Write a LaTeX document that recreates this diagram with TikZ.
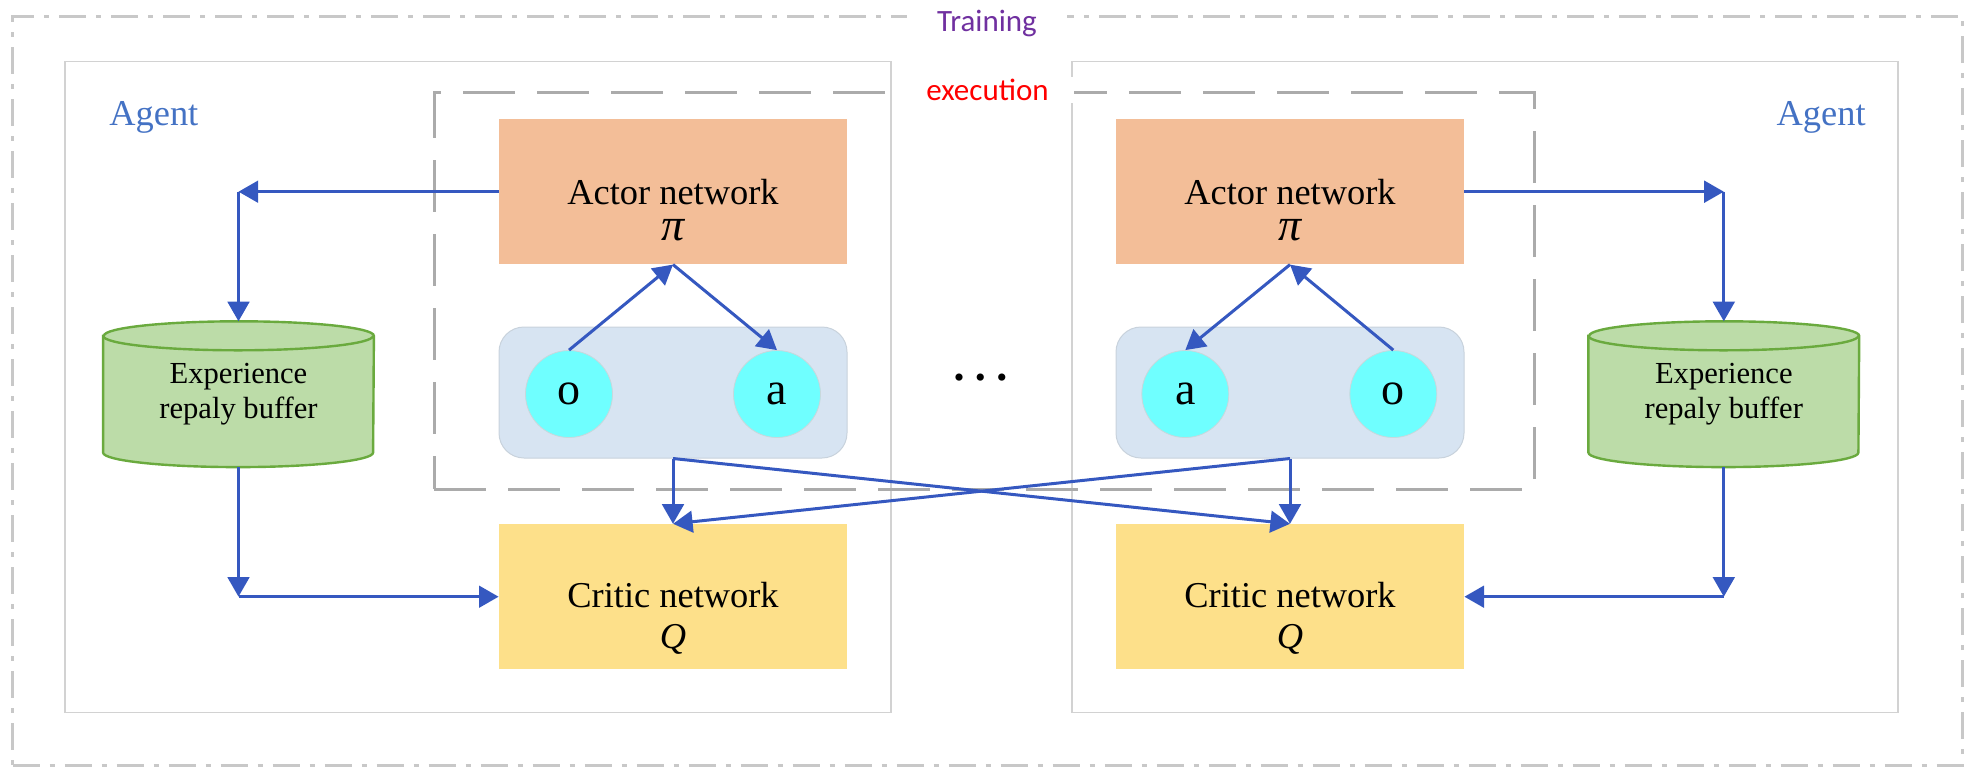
\documentclass[tikz,border=0pt]{standalone}
\usepackage{fontspec}
\setmainfont{Liberation Serif}
\newfontfamily\calib{Carlito}
\usetikzlibrary{arrows.meta,backgrounds}
\definecolor{arrowblue}{HTML}{3558C0}
\definecolor{agentgray}{HTML}{D2D2D2}
\definecolor{outergray}{HTML}{C8C8C8}
\definecolor{execgray}{HTML}{ABABAB}
\definecolor{actorfill}{HTML}{F3BE98}
\definecolor{criticfill}{HTML}{FDE08A}
\definecolor{cylfill}{HTML}{BCDCA8}
\definecolor{cylline}{HTML}{6AAA3E}
\definecolor{obsfill}{HTML}{D7E4F2}
\definecolor{obsline}{HTML}{C8D2DC}
\definecolor{cyanfill}{HTML}{6FFFFF}
\definecolor{circline}{HTML}{C8D8DC}
\definecolor{agentblue}{HTML}{4472C4}
\definecolor{trainpurple}{HTML}{7030A0}
\begin{document}
\begin{tikzpicture}[x=0.5pt,y=-0.5pt,
  agentbox/.style={draw=agentgray, line width=0.75pt, minimum width=413pt, minimum height=325.3pt, inner sep=0pt},
  netbox/.style={minimum width=174pt, minimum height=72.5pt, inner sep=0pt},
  nettext/.style={align=center, inner sep=0pt, font=\fontsize{18.2}{18.2}\selectfont},
  obsbox/.style={fill=obsfill, draw=obsline, line width=0.5pt, rounded corners=12.5pt, minimum width=174pt, minimum height=65.5pt, inner sep=0pt},
  var/.style={circle, fill=cyanfill, draw=circline, line width=0.4pt, minimum size=43.5pt, inner sep=0pt, font=\fontsize{23}{23}\selectfont},
  cylbox/.style={minimum width=135pt, minimum height=72.5pt, inner sep=0pt, align=center, font=\fontsize{15.3}{17.85}\selectfont},
  cylpaint/.style={fill=cylfill, draw=cylline, line width=1.2pt},
  arr/.style={draw=arrowblue, line width=1.5pt, -{Triangle[length=9.8pt,width=10.8pt]}},
  agentlbl/.style={text=agentblue, inner sep=0pt, font=\fontsize{18.2}{18.2}\selectfont},
  boxlbl/.style={fill=white, inner ysep=1pt, font=\calib\fontsize{15.5}{15.5}\selectfont}
]
\useasboundingbox (0,0) rectangle (1974,782);

% outer training frame
\node[draw=outergray, line width=1.5pt, dash pattern=on 13.5pt off 5pt on 2.5pt off 5pt,
      minimum width=975pt, minimum height=374.5pt, inner sep=0pt] (train) at (987.7,390.5) {};
% agent frames
\node[agentbox] (agentL) at (478.15,387) {};
\node[agentbox] (agentR) at (1485,387) {};
% execution frame
\node[draw=execgray, line width=1.5pt, dash pattern=on 26pt off 11pt,
      minimum width=550pt, minimum height=198.15pt, inner sep=0pt] (exec) at (984.3,290.85) {};

\node[boxlbl, text=trainpurple, inner xsep=15pt, anchor=base] (trainlbl) at (987,31.5) {Training};
\node[boxlbl, text=red, inner xsep=12.5pt, anchor=base] (execlbl) at (987.5,100.7) {execution};

\node[agentlbl, anchor=base west] (agentLlbl) at (109,125) {Agent};
\node[agentlbl, anchor=base east] (agentRlbl) at (1866,125) {Agent};

% left agent
\node[netbox, fill=actorfill] (actorL) at (673,191.7) {};
\node[nettext] (actorLt) at (673,209.8) {Actor network\\{\fontsize{23}{18.2}\selectfont\itshape π}};
\node[obsbox] (obsL) at (673,392.5) {};
\node[var] (oL) at (569,394) {o};
\node[var] (aL) at (777,394) {a};
\node[netbox, fill=criticfill] (criticL) at (673,596.7) {};
\node[nettext, font=\fontsize{18.2}{20.65}\selectfont] (criticLt) at (673,618) {Critic network\\{\itshape Q}};
\node[cylbox] (cylL) at (238.5,394.2) {Experience\\repaly buffer};

% right agent
\node[netbox, fill=actorfill] (actorR) at (1290,191.7) {};
\node[nettext] (actorRt) at (1290,209.8) {Actor network\\{\fontsize{23}{18.2}\selectfont\itshape π}};
\node[obsbox] (obsR) at (1290,392.5) {};
\node[var] (aR) at (1185.3,394) {a};
\node[var] (oR) at (1393.3,394) {o};
\node[netbox, fill=criticfill] (criticR) at (1290,596.7) {};
\node[nettext, font=\fontsize{18.2}{20.65}\selectfont] (criticRt) at (1290,618) {Critic network\\{\itshape Q}};
\node[cylbox] (cylR) at (1723.8,394.2) {Experience\\repaly buffer};

% cylinders
\begin{scope}[on background layer]
\foreach \c in {cylL,cylR}{
  \path[cylpaint] ([yshift=-7.25pt]\c.north west) -- ([yshift=7.25pt]\c.south west)
     arc[start angle=180, end angle=360, x radius=67.5pt, y radius=7.25pt]
     -- ([yshift=-7.25pt]\c.north east)
     arc[start angle=0, end angle=180, x radius=67.5pt, y radius=7.25pt] -- cycle;
  \draw[cylline, line width=1.2pt] ([yshift=-7.25pt]\c.north west)
     arc[start angle=180, end angle=360, x radius=67.5pt, y radius=7.25pt];
}
\end{scope}

% dots
\node[font=\fontsize{15}{15}\selectfont, inner sep=0pt] (dots) at (980.5,381) {•\hspace{5.5pt}•\hspace{5.5pt}•};

% corner points
\coordinate (cL1) at (cylL.north |- actorL.west);
\coordinate (cL2) at (cylL.south |- criticL.west);
\coordinate (cR1) at (cylR.north |- actorR.east);
\coordinate (cR2) at (cylR.south |- criticR.east);

% left arrows
\draw[arr] (actorL.west) -- (cL1);
\draw[arr] (cL1) -- (cylL.north);
\draw[arr] (cylL.south) -- (cL2);
\draw[arr] (cL2) -- (criticL.west);
\draw[arr] (oL.north) -- (actorL.south);
\draw[arr] (actorL.south) -- (aL.north);

% right arrows
\draw[arr] (actorR.east) -- (cR1);
\draw[arr] (cR1) -- (cylR.north);
\draw[arr] (cylR.south) -- (cR2);
\draw[arr] (cR2) -- (criticR.east);
\draw[arr] (oR.north) -- (actorR.south);
\draw[arr] (actorR.south) -- (aR.north);

% to critics
\draw[arr] (obsL.south) -- (criticL.north);
\draw[arr] (obsL.south) -- (criticR.north);
\draw[arr] (obsR.south) -- (criticR.north);
\draw[arr] (obsR.south) -- (criticL.north);
\end{tikzpicture}
\end{document}
